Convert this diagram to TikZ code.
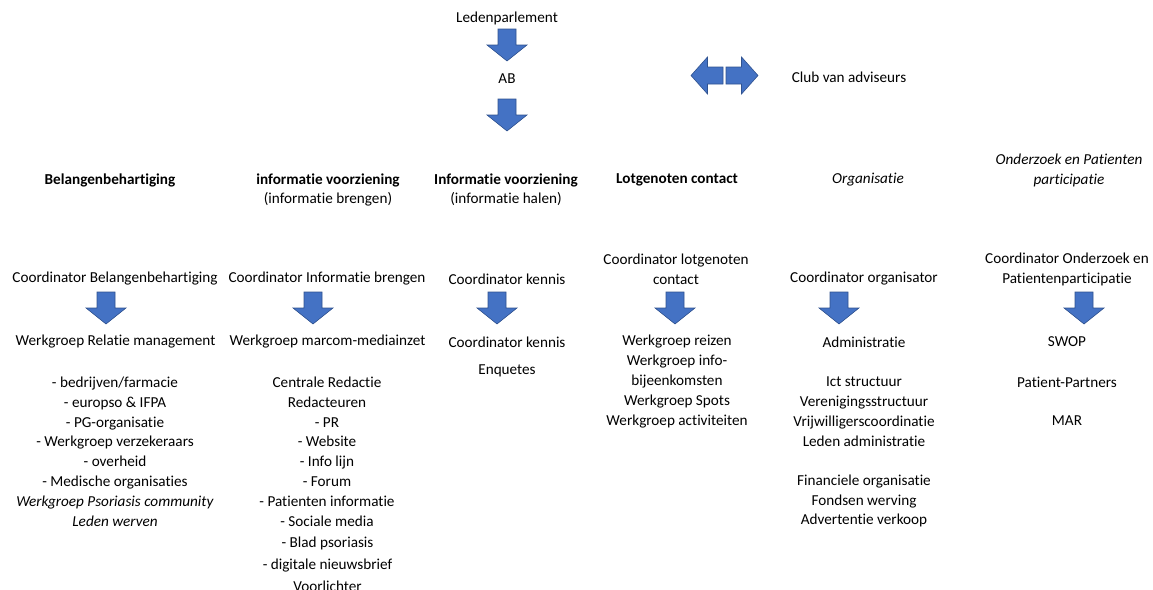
\documentclass[tikz,border=0pt]{standalone}
\usepackage{fontspec}
\setmainfont{Carlito}[Ligatures=NoCommon]
\usepackage{tikz}

\definecolor{blkfill}{HTML}{4472C4}
\definecolor{blkline}{HTML}{2F528F}

\tikzset{
    blk/.style={fill=blkfill, draw=blkline, line width=0.6pt, line join=miter},
    downblk/.pic={\draw[blk] (-9,0) -- (9,0) -- (9,16) -- (20,16) -- (0,32)
        -- (-20,16) -- (-9,16) -- cycle;},
    sideblk/.pic={\draw[blk] (1.5,-8.5) -- (17,-8.5) -- (17,-18.5) -- (33.5,0)
        -- (17,18.5) -- (17,8.5) -- (1.5,8.5) -- cycle;}
}

\begin{document}
\begin{tikzpicture}[x=1pt, y=-1pt,
    every node/.style={inner sep=0pt, align=center,
        font=\fontsize{15.2}{19.8}\selectfont},
    kop/.style={font=\fontsize{15.2}{19}\selectfont\bfseries},
    kopit/.style={font=\fontsize{15.2}{20}\selectfont\itshape}]
    \useasboundingbox (0,0) rectangle (1153,589);

    % top
    \node (lp) at (507,18) {Ledenparlement};
    \node (ab) at (507,79) {AB};
    \node (club) at (849,77) {Club van adviseurs};
    \pic (p1) at (507,29) {downblk};
    \pic (p2) at (507,99) {downblk};
    \pic[xscale=-1] (adl) at (724.5,75.5) {sideblk};
    \pic (adr) at (724.5,75.5) {sideblk};

    % columns
    \node[kop] (h1) at (110,180) {Belangenbehartiging};
    \node[kop] (h2) at (328,189.5) {informatie voorziening\\\mdseries(informatie brengen)};
    \node[kop] (h3) at (506,189.5) {Informatie voorziening\\\mdseries(informatie halen)};
    \node[kop] (h4) at (677,180) {Lotgenoten contact};
    \node[kopit] (h5) at (868,180) {Organisatie};
    \node[kopit] (h6) at (1069,170) {Onderzoek en Patienten\\participatie};

    % coordinators
    \node (c1) at (115,279) {Coordinator Belangenbehartiging};
    \node (c2) at (327,279) {Coordinator Informatie brengen};
    \node (c3) at (507,279) {Coordinator kennis};
    \node (c4) at (676,269.5) {Coordinator lotgenoten\\contact};
    \node (c5) at (864,279) {Coordinator organisator};
    \node (c6) at (1067,269.5) {Coordinator Onderzoek en\\Patientenparticipatie};

    \pic (a1) at (106,292) {downblk};
    \pic (a2) at (313,292) {downblk};
    \pic (a3) at (497,292) {downblk};
    \pic (a4) at (675,292) {downblk};
    \pic (a5) at (839,292) {downblk};
    \pic (a6) at (1084,292) {downblk};

    % werkgroepen
    \node (w1) at (115.5,342) {Werkgroep Relatie management};
    \node (w2) at (327.5,342) {Werkgroep marcom-mediainzet};
    \node (w3) at (507,342) {Coordinator kennis};
    \node (w4) at (677,381.5) {Werkgroep reizen\\Werkgroep info-\\bijeenkomsten\\Werkgroep Spots\\Werkgroep activiteiten};
    \node (w5) at (864,342) {Administratie};
    \node (w6) at (1067,342) {SWOP};

    % lists
    \node (l1) at (115,451.5) {- bedrijven/farmacie\\- europso \& IFPA\\- PG-organisatie\\- Werkgroep verzekeraars\\- overheid\\- Medische organisaties\\\textit{Werkgroep Psoriasis community}\\\textit{Leden werven}};
    \node (l2) at (327,451.5) {Centrale Redactie\\Redacteuren\\- PR\\- Website\\- Info lijn\\- Forum\\- Patienten informatie\\- Sociale media};
    \node[font=\fontsize{15.2}{22}\selectfont] (l2b) at (327.5,564.5) {- Blad psoriasis\\- digitale nieuwsbrief\\Voorlichter};
    \node (l3) at (507,371) {Enquetes};
    \node (l5) at (864,411.5) {Ict structuur\\Verenigingsstructuur\\Vrijwilligerscoordinatie\\Leden administratie};
    \node (l5b) at (864,501) {Financiele organisatie\\Fondsen werving\\Advertentie verkoop};
    \node (l6) at (1067,382) {Patient-Partners};
    \node (l6b) at (1067,421) {MAR};
\end{tikzpicture}
\end{document}
